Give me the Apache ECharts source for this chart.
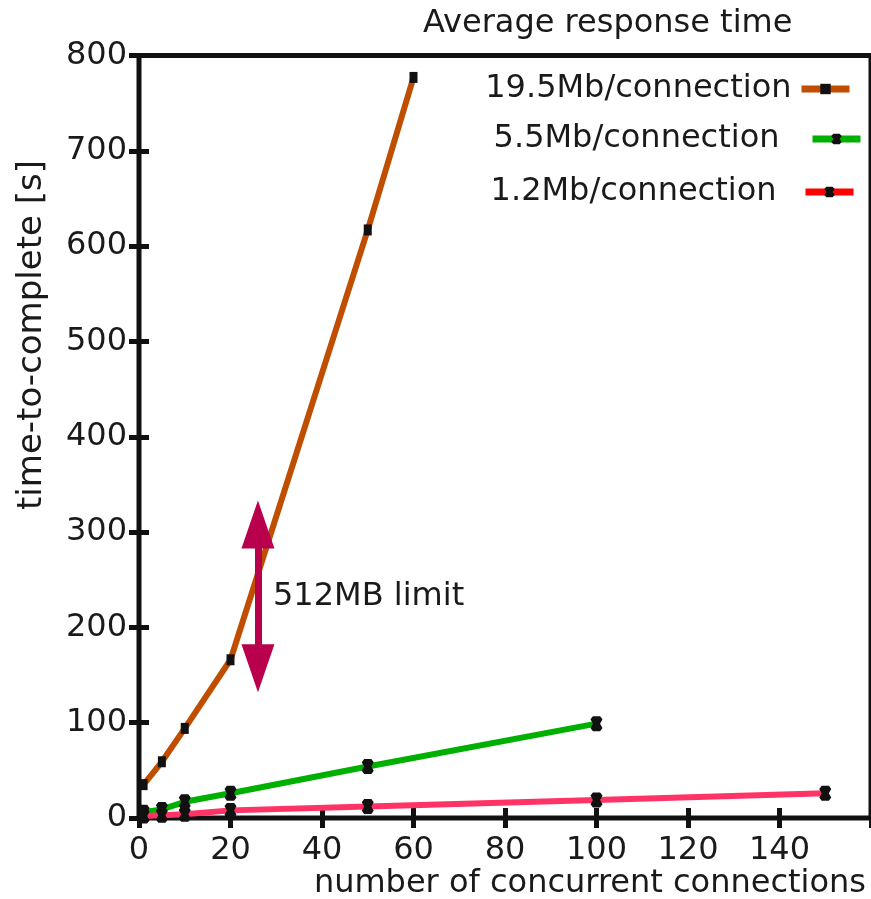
<!DOCTYPE html>
<html>
<head>
<meta charset="utf-8">
<script src="https://cdn.jsdelivr.net/npm/echarts@6/dist/echarts.min.js"></script>
<style>html,body{margin:0;padding:0;background:#fff;}#c{width:871px;height:899px;}</style>
</head>
<body>
<div id="c"></div>
<script>
// ---- data ----
const seriesNames = ['19.5Mb/connection', '5.5Mb/connection', '1.2Mb/connection'];
const xBig = [1, 5, 10, 20, 50, 60];
const yBig = [35, 59, 94, 166, 617, 777];
const xMid = [1, 5, 10, 20, 50, 100];
const yMid = [6, 9, 17, 26, 54, 99];
const xSmall = [1, 5, 10, 20, 50, 100, 150];
const ySmall = [2, 3, 4, 8, 12, 19, 26];
const xTicks = [0, 20, 40, 60, 80, 100, 120, 140];
const yTicks = [0, 100, 200, 300, 400, 500, 600, 700, 800];
const arrowX = 26, arrowFrom = 157, arrowTo = 308;
const noteX = 28.2, noteY = 232, noteText = '512MB limit';

const FONT = 'DejaVu Sans';
const INK = '#1a1a1a';
const pair = (xs, ys) => xs.map((x, i) => [x, ys[i]]);
const errMark = 'path://M2,0 L8,0 L10,3 L8,7 L10,11 L8,14 L2,14 L0,11 L2,7 L0,3 Z';

const chart = echarts.init(document.getElementById('c'), null, {renderer: 'canvas'});
const tickStyle = {show: true, inside: true, length: 10, lineStyle: {color: '#111', width: 5}};
const xBase = {type: 'value', min: 0, max: 160, interval: 20, splitLine: {show: false}, axisLine: {show: false}, axisTick: tickStyle};
const yBase = {type: 'value', min: 0, max: 800, interval: 100, splitLine: {show: false}, axisLine: {show: false}, axisTick: tickStyle};

function legendFor(name, color, right, top, gap) {
  return {
    data: [{name: name, lineStyle: {color: color, width: 7}}],
    right: right, top: top, padding: 0, align: 'right', orient: 'vertical',
    itemWidth: 48, itemHeight: 13, selectedMode: false,
    textStyle: {fontFamily: FONT, fontSize: 32, color: INK, padding: [0, gap, 0, 0]}
  };
}

chart.setOption({
  animation: false,
  backgroundColor: '#fff',
  title: {text: 'Average response time', left: 423, top: 8, padding: 0,
    textStyle: {fontFamily: FONT, fontSize: 32, fontWeight: 'normal', color: INK}},
  grid: {left: 139, top: 55.5, width: 736, height: 762.5, show: true, borderColor: '#111', borderWidth: 5, backgroundColor: 'transparent'},
  legend: [
    legendFor(seriesNames[0], '#bf4e00', 18, 73, 5),
    legendFor(seriesNames[1], '#00b000', 7, 123, 28),
    legendFor(seriesNames[2], '#ff0000', 14, 176, 24)
  ],
  xAxis: [
    Object.assign({}, xBase, {position: 'bottom',
      axisLabel: {margin: 17, fontFamily: FONT, fontSize: 32, color: INK, showMaxLabel: false,
        formatter: v => xTicks.includes(v) ? String(v) : ''}}),
    Object.assign({}, xBase, {position: 'top', axisLabel: {show: false}})
  ],
  yAxis: [
    Object.assign({}, yBase, {position: 'left',
      axisLabel: {margin: 12, fontFamily: FONT, fontSize: 32, color: INK,
        formatter: v => yTicks.includes(v) ? String(v) : ''}}),
    Object.assign({}, yBase, {position: 'right', axisLabel: {show: false}})
  ],
  graphic: [
    {type: 'text', x: 32, y: 335, rotation: Math.PI / 2,
      style: {text: 'time-to-complete [s]', font: '34px "DejaVu Sans"', fill: INK, textAlign: 'center', textVerticalAlign: 'middle'}},
    {type: 'text', x: 866, y: 884,
      style: {text: 'number of concurrent connections', font: '32px "DejaVu Sans"', fill: INK, textAlign: 'right', textVerticalAlign: 'middle'}}
  ],
  series: [
    {name: seriesNames[0], type: 'line', data: pair(xBig, yBig), xAxisIndex: 0, yAxisIndex: 0,
      symbol: 'rect', symbolSize: [8, 11], showAllSymbol: true,
      itemStyle: {color: '#111'}, lineStyle: {color: '#bf4e00', width: 6}, z: 2,
      markLine: {silent: true, symbol: ['triangle', 'triangle'], symbolSize: [33, 48],
        lineStyle: {color: '#b8004c', width: 7, type: 'solid'}, itemStyle: {color: '#b8004c'},
        label: {show: false},
        data: [[{coord: [arrowX, arrowFrom]}, {coord: [arrowX, arrowTo]}]]},
      markPoint: {silent: true, symbol: 'circle', symbolSize: 0,
        label: {show: true, position: 'right', distance: 5, formatter: noteText, fontFamily: FONT, fontSize: 32, color: INK},
        data: [{coord: [noteX, noteY]}]}
    },
    {name: seriesNames[1], type: 'line', data: pair(xMid, yMid),
      symbol: errMark, symbolSize: [12, 15], showAllSymbol: true,
      itemStyle: {color: '#111'}, lineStyle: {color: '#00b000', width: 6}, z: 3},
    {name: seriesNames[2], type: 'line', data: pair(xSmall, ySmall),
      symbol: errMark, symbolSize: [12, 15], showAllSymbol: true,
      itemStyle: {color: '#111'}, lineStyle: {color: '#ff3366', width: 6}, z: 4}
  ]
});
</script>
</body>
</html>
